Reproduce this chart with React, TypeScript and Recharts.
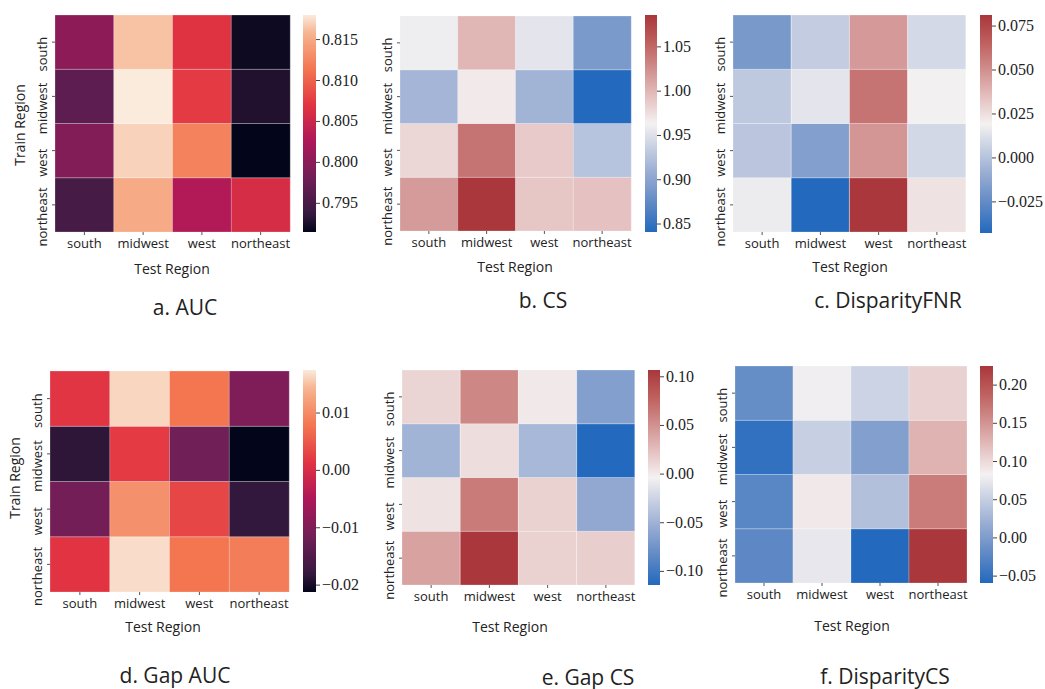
import React from "react";
import { BarChart, Bar, XAxis, YAxis, Cell } from "recharts";

const TEST_REGIONS = ["south", "midwest", "west", "northeast"];
const TRAIN_REGIONS = ["south", "midwest", "west", "northeast"];

// rows = train region, columns = test region
const AUC = [
  [0.8002, 0.8164, 0.8069, 0.792],
  [0.7968, 0.818, 0.8074, 0.7928],
  [0.7995, 0.817, 0.8122, 0.7915],
  [0.795, 0.8151, 0.8029, 0.806],
];
const CS = [
  [0.96, 1.0, 0.954, 0.89],
  [0.915, 0.968, 0.914, 0.841],
  [0.98, 1.042, 0.988, 0.927],
  [1.017, 1.086, 0.99, 0.993],
];
const DISPARITY_FNR = [
  [-0.018, 0.0044, 0.047, 0.0094],
  [0.003, 0.0143, 0.059, 0.019],
  [0.0019, -0.0154, 0.048, 0.009],
  [0.017, -0.0427, 0.0813, 0.024],
];
const GAP_AUC = [
  [0.0016, 0.0163, 0.0078, -0.01],
  [-0.0185, 0.002, -0.0115, -0.0212],
  [-0.0111, 0.0105, 0.0032, -0.0181],
  [0.0014, 0.0167, 0.0078, 0.0086],
];
const GAP_CS = [
  [0.0125, 0.056, 0.001, -0.065],
  [-0.048, 0.008, -0.045, -0.114],
  [0.005, 0.063, 0.014, -0.057],
  [0.041, 0.107, 0.014, 0.016],
];
const DISPARITY_CS = [
  [-0.0165, 0.08, 0.055, 0.106],
  [-0.05, 0.052, 0.0035, 0.128],
  [-0.025, 0.089, 0.037, 0.168],
  [-0.022, 0.074, -0.059, 0.225],
];

// colour limits of each colorbar
const AUC_RANGE = [0.7915, 0.818];
const CS_RANGE = [0.841, 1.086];
const DISPARITY_FNR_RANGE = [-0.0427, 0.0813];
const GAP_AUC_RANGE = [-0.0212, 0.0175];
const GAP_CS_RANGE = [-0.114, 0.107];
const DISPARITY_CS_RANGE = [-0.059, 0.225];

const AUC_TICKS = [0.795, 0.8, 0.805, 0.81, 0.815];
const CS_TICKS = [0.85, 0.9, 0.95, 1.0, 1.05];
const DISPARITY_FNR_TICKS = [-0.025, 0, 0.025, 0.05, 0.075];
const GAP_AUC_TICKS = [-0.02, -0.01, 0, 0.01];
const GAP_CS_TICKS = [-0.1, -0.05, 0, 0.05, 0.1];
const DISPARITY_CS_TICKS = [-0.05, 0, 0.05, 0.1, 0.15, 0.2];

// [position, colour]
const ROCKET_STOPS: [number, string][] = [
  [0, "#03051a"], [0.083, "#35193e"], [0.25, "#701f57"], [0.417, "#ad1759"],
  [0.583, "#e13342"], [0.75, "#f37651"], [0.917, "#f6b48f"], [1, "#faebdd"],
];
const VLAG_STOPS: [number, string][] = [
  [0, "#2369bd"], [0.125, "#5b87c4"], [0.25, "#8fa6d0"], [0.375, "#c1cbe0"], [0.5, "#f4f1f1"],
  [0.625, "#e4c0bf"], [0.75, "#d08f8d"], [0.875, "#be5f5e"], [1, "#a9373b"],
];

function hexToRgb(h: string) {
  const n = parseInt(h.slice(1), 16);
  return [(n >> 16) & 255, (n >> 8) & 255, n & 255];
}

function makeCmap(stops: [number, string][]) {
  const pts = stops.map(([p, c]) => ({ p, rgb: hexToRgb(c) }));
  return (t: number) => {
    const v = Math.min(1, Math.max(0, t));
    let i = 0;
    while (i < pts.length - 2 && v > pts[i + 1].p) i++;
    const a = pts[i];
    const b = pts[i + 1];
    const f = (v - a.p) / (b.p - a.p);
    const [r, g, bl] = a.rgb.map((x, k) => Math.round(x + (b.rgb[k] - x) * f));
    return `rgb(${r},${g},${bl})`;
  };
}

const rocket = makeCmap(ROCKET_STOPS);
const vlag = makeCmap(VLAG_STOPS);

const SANS = "'Open Sans', 'DejaVu Sans', sans-serif";
const SERIF = "Liberation Serif";
const INK = "#222";

type Box = { x: number; y: number; w: number; h: number };
type Pt = { x: number; y: number };

const PANELS = [
  {
    id: "a", values: AUC, range: AUC_RANGE, ticks: AUC_TICKS, digits: 3, cmap: rocket,
    caption: "a. AUC", heat: { x: 55, y: 15, w: 235, h: 217 }, bar: { x: 303, y: 15, w: 13, h: 217 },
    testPos: { x: 172, y: 269 }, captionPos: { x: 185, y: 307 }, trainPos: { x: 20, y: 125 },
  },
  {
    id: "b", values: CS, range: CS_RANGE, ticks: CS_TICKS, digits: 2, cmap: vlag,
    caption: "b. CS", heat: { x: 400, y: 16, w: 231, h: 215 }, bar: { x: 645, y: 15, w: 12, h: 217 },
    testPos: { x: 515, y: 267 }, captionPos: { x: 543, y: 300 }, trainPos: null,
  },
  {
    id: "c", values: DISPARITY_FNR, range: DISPARITY_FNR_RANGE, ticks: DISPARITY_FNR_TICKS, digits: 3, cmap: vlag,
    caption: "c. DisparityFNR", heat: { x: 733, y: 15, w: 233, h: 217 }, bar: { x: 980, y: 15, w: 12, h: 218 },
    testPos: { x: 850, y: 267 }, captionPos: { x: 888, y: 300 }, trainPos: null,
  },
  {
    id: "d", values: GAP_AUC, range: GAP_AUC_RANGE, ticks: GAP_AUC_TICKS, digits: 2, cmap: rocket,
    caption: "d. Gap AUC", heat: { x: 50, y: 371, w: 239, h: 221 }, bar: { x: 303, y: 370, w: 13, h: 222 },
    testPos: { x: 163, y: 627 }, captionPos: { x: 175, y: 675 }, trainPos: { x: 15, y: 478 },
  },
  {
    id: "e", values: GAP_CS, range: GAP_CS_RANGE, ticks: GAP_CS_TICKS, digits: 2, cmap: vlag,
    caption: "e. Gap CS", heat: { x: 402, y: 370, w: 233, h: 215 }, bar: { x: 648, y: 370, w: 12, h: 215 },
    testPos: { x: 510, y: 627 }, captionPos: { x: 588, y: 677 }, trainPos: null,
  },
  {
    id: "f", values: DISPARITY_CS, range: DISPARITY_CS_RANGE, ticks: DISPARITY_CS_TICKS, digits: 2, cmap: vlag,
    caption: "f. DisparityCS", heat: { x: 735, y: 366, w: 232, h: 217 }, bar: { x: 980, y: 366, w: 13, h: 217 },
    testPos: { x: 852, y: 626 }, captionPos: { x: 885, y: 676 }, trainPos: null,
  },
];

const fmt = (v: number, digits: number) => {
  const s = Math.abs(v).toFixed(digits);
  return v < -1e-9 ? "\u2212" + s : s;
};

function RowTick(props: any) {
  const { x, y, payload } = props;
  const label = TRAIN_REGIONS[3 - Math.floor(payload.value)];
  const bx = x - 3;
  const by = y + 12;
  return (
    <text x={bx} y={by} transform={`rotate(-90 ${bx} ${by})`} textAnchor="middle"
      style={{ fontFamily: SANS, fontSize: 13 }} fill={INK}>
      {label}
    </text>
  );
}

function BarTick(props: any) {
  const { x, y, payload, digits } = props;
  return (
    <text x={x} y={y} dy={5} textAnchor="start" fontFamily={SERIF} fontSize={16} fill={INK}>
      {fmt(payload.value, digits)}
    </text>
  );
}

const YW = 60;
const XH = 40;
const PAD = 4;

function Heatmap({ values, range, cmap, heat }: { values: number[][]; range: number[]; cmap: (t: number) => string; heat: Box }) {
  const [lo, hi] = range;
  const norm = (v: number) => (v - lo) / (hi - lo);
  // one stacked unit-height bar per train region, one category per test region
  const data = TEST_REGIONS.map((test, j) => {
    const row: Record<string, any> = { test };
    TRAIN_REGIONS.forEach((train, i) => {
      row[`h_${train}`] = 1;
      row[`v_${train}`] = values[i][j];
    });
    return row;
  });
  const stackOrder = [...TRAIN_REGIONS].reverse();
  return (
    <div style={{ position: "absolute", left: heat.x - YW, top: heat.y - PAD }}>
      <BarChart width={heat.w + YW + PAD} height={heat.h + PAD + XH} data={data}
        margin={{ top: PAD, right: PAD, left: 0, bottom: 0 }} barCategoryGap={0} barGap={0}>
        <XAxis dataKey="test" height={XH} axisLine={false} tickSize={3} tickMargin={4}
          tickLine={{ stroke: "#555" }} interval={0}
          tick={{ fontFamily: SANS, fontSize: 13, fill: INK }} />
        <YAxis type="number" domain={[0, 4]} ticks={[0.5, 1.5, 2.5, 3.5]} width={YW} interval={0}
          axisLine={false} tickSize={3} tickLine={{ stroke: "#555" }} tick={<RowTick />} />
        {stackOrder.map((train) => (
          <Bar key={train} dataKey={`h_${train}`} stackId="cells" isAnimationActive={false}
            stroke="rgba(255,255,255,0.3)" strokeWidth={0.8}>
            {data.map((d, j) => (
              <Cell key={j} fill={cmap(norm(d[`v_${train}`]))} />
            ))}
          </Bar>
        ))}
      </BarChart>
    </div>
  );
}

const CBW = 60;
const CBPAD = 12;

function Colorbar({ id, range, ticks, digits, cmap, bar }: { id: string; range: number[]; ticks: number[]; digits: number; cmap: (t: number) => string; bar: Box }) {
  const [lo, hi] = range;
  const stops = Array.from({ length: 41 }, (_, k) => k / 40);
  return (
    <div style={{ position: "absolute", left: bar.x, top: bar.y - CBPAD }}>
      <BarChart width={bar.w + CBW} height={bar.h + 2 * CBPAD} data={[{ k: "cb", span: [lo, hi] }]}
        margin={{ top: CBPAD, right: 0, left: 0, bottom: CBPAD }} barCategoryGap={0}>
        <defs>
          <linearGradient id={`grad-${id}`} x1="0" y1="1" x2="0" y2="0">
            {stops.map((s) => (
              <stop key={s} offset={s} stopColor={cmap(s)} />
            ))}
          </linearGradient>
        </defs>
        <XAxis dataKey="k" hide height={0} />
        <YAxis orientation="right" type="number" domain={[lo, hi]} ticks={ticks} width={CBW}
          allowDataOverflow interval={0} axisLine={false} tickSize={4} tickMargin={2}
          tickLine={{ stroke: "#444" }} tick={<BarTick digits={digits} />} />
        <Bar dataKey="span" fill={`url(#grad-${id})`} isAnimationActive={false} />
      </BarChart>
    </div>
  );
}

function Label({ pos, text, size, rotate }: { pos: Pt; text: string; size: number; rotate?: boolean }) {
  return (
    <div style={{
      position: "absolute", left: pos.x, top: pos.y, whiteSpace: "nowrap",
      transform: `translate(-50%, -50%)${rotate ? " rotate(-90deg)" : ""}`,
      fontFamily: SANS, fontSize: size, color: INK, lineHeight: 1,
    }}>
      {text}
    </div>
  );
}

export default function App() {
  return (
    <div style={{ position: "absolute", left: 0, top: 0, width: 1045, height: 689, background: "#fff", overflow: "hidden" }}>
      {PANELS.map((p) => (
        <React.Fragment key={p.id}>
          <Heatmap values={p.values} range={p.range} cmap={p.cmap} heat={p.heat} />
          <Colorbar id={p.id} range={p.range} ticks={p.ticks} digits={p.digits} cmap={p.cmap} bar={p.bar} />
          <Label pos={p.testPos} text="Test Region" size={14} />
          <Label pos={p.captionPos} text={p.caption} size={21} />
          {p.trainPos && <Label pos={p.trainPos} text="Train Region" size={14} rotate />}
        </React.Fragment>
      ))}
    </div>
  );
}
